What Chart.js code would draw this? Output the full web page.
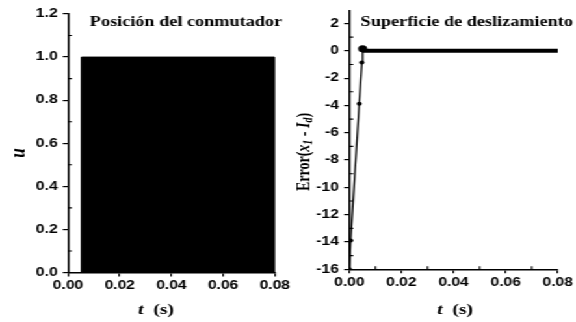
<!DOCTYPE html>
<html><head><meta charset="utf-8">
<script src="https://cdn.jsdelivr.net/npm/chart.js@4.4.0/dist/chart.umd.min.js"></script>
<style>
html,body{margin:0;padding:0;background:#fff;overflow:hidden}
#wrap{position:absolute;left:0;top:0;width:443px;height:322px;transform:scaleX(1.3002);transform-origin:0 0}
#a{position:absolute;left:0;top:0;width:225px;height:322px}
#b{position:absolute;left:225px;top:0;width:218px;height:322px}
</style></head><body>
<div id="wrap"><div id="a"><canvas id="c1"></canvas></div><div id="b"><canvas id="c2"></canvas></div></div>
<script>
// ---- data ----
const timeTicks = [0, 0.02, 0.04, 0.06, 0.08];
const timeMinor = [0.01, 0.03, 0.05, 0.07];
const uTicks = [0, 0.2, 0.4, 0.6, 0.8, 1.0, 1.2];
const uMinor = [0.1, 0.3, 0.5, 0.7, 0.9, 1.1];
const errTicks = [-16, -14, -12, -10, -8, -6, -4, -2, 0, 2];
const errMinor = [-15, -13, -11, -9, -7, -5, -3, -1, 1];
const switchT = [0, 0.0052, 0.0052, 0.08, 0.08];
const switchU = [0, 0, 1, 1, 0];
const errT = [0, 0.0005, 0.0038, 0.0048, 0.0051];
const errV = [-16, -13.9, -3.87, -0.85, 0.15];
const zeroT = [0.0049, 0.08];
const zeroV = [0, 0];

const titleLeft = 'Posición del conmutador';
const titleRight = 'Superficie de deslizamiento';

const SANS = '"Liberation Sans", Arial, sans-serif';
const SERIF = '"Liberation Serif", "Times New Roman", serif';
const pts = (xs, ys) => xs.map((x, i) => ({x, y: ys[i]}));
const TICKFONT = {family: SANS, size: 12, weight: 'bold'};

function xScale(h) {
  return {
    type: 'linear', min: 0, max: 0.08,
    afterBuildTicks: s => { s.ticks = timeTicks.map(v => ({value: v})); },
    afterFit: s => { s.height = h; },
    ticks: {color: '#000', font: TICKFONT, padding: 2,
      maxRotation: 0, autoSkip: false, callback: v => Number(v).toFixed(2)},
    grid: {drawOnChartArea: false, drawTicks: true, tickLength: 4, color: '#000', lineWidth: 1.2},
    border: {color: '#000', width: 1.5}
  };
}
function yScale(min, max, ticks, w, dec) {
  return {
    type: 'linear', min, max,
    afterBuildTicks: s => { s.ticks = ticks.map(v => ({value: v})); },
    afterFit: s => { s.width = w; },
    ticks: {color: '#000', font: TICKFONT, padding: 4,
      autoSkip: false, callback: v => Number(v).toFixed(dec)},
    grid: {drawOnChartArea: false, drawTicks: true, tickLength: 4, color: '#000', lineWidth: 1.2},
    border: {color: '#000', width: 1.5}
  };
}

function drawRich(ctx, parts, x, y, rot) {
  ctx.save();
  ctx.translate(x, y);
  if (rot) ctx.rotate(rot);
  ctx.textBaseline = 'middle';
  ctx.textAlign = 'left';
  ctx.fillStyle = '#000';
  let total = 0;
  parts.forEach(p => { ctx.font = p.f; p.w = ctx.measureText(p.t).width; total += p.w; });
  let cx = -total / 2;
  parts.forEach(p => { ctx.font = p.f; ctx.fillText(p.t, cx, p.dy || 0); cx += p.w; });
  ctx.restore();
}

const minorPlugin = {
  id: 'minorTicks',
  afterDraw(chart, args, opts) {
    const ctx = chart.ctx;
    const xs = chart.scales.x, ys = chart.scales.y;
    ctx.save();
    ctx.strokeStyle = '#000';
    ctx.lineWidth = 1.1;
    ctx.beginPath();
    timeMinor.forEach(v => {
      const px = xs.getPixelForValue(v);
      ctx.moveTo(px, xs.top); ctx.lineTo(px, xs.top - 3);
    });
    (opts.yMinor || []).forEach(v => {
      const py = ys.getPixelForValue(v);
      ctx.moveTo(ys.right, py); ctx.lineTo(ys.right + 3, py);
    });
    ctx.stroke();
    ctx.restore();
    (opts.texts || []).forEach(t => drawRich(ctx, t.parts, t.x, t.y, t.rot));
  }
};

const tParts = [
  {t: 't', f: 'italic bold 15px ' + SERIF},
  {t: '  (s)', f: 'bold 15px ' + SERIF}
];

new Chart(document.getElementById('c1'), {
  type: 'line',
  data: {datasets: [{
    data: pts(switchT, switchU), fill: 'origin', backgroundColor: '#000',
    borderColor: '#000', borderWidth: 1, pointRadius: 0, tension: 0
  }]},
  options: {
    responsive: true, maintainAspectRatio: false, animation: false,
    devicePixelRatio: 1,
    layout: {padding: {left: 0, right: 12, top: 14, bottom: 0}},
    scales: {x: xScale(49.5), y: yScale(0, 1.2, uTicks, 52.3, 1)},
    plugins: {
      legend: {display: false}, tooltip: {enabled: false},
      minorTicks: {
        yMinor: uMinor,
        texts: [
          {parts: [{t: titleLeft, f: 'bold 14px ' + SERIF}], x: 143, y: 22},
          {parts: [{t: 'u', f: 'italic bold 17px ' + SERIF}], x: 15, y: 153, rot: -Math.PI / 2},
          {parts: tParts, x: 120, y: 310}
        ]
      }
    }
  },
  plugins: [minorPlugin]
});

new Chart(document.getElementById('c2'), {
  type: 'line',
  data: {datasets: [
    {data: pts(zeroT, zeroV), borderColor: '#000', borderWidth: 4, pointRadius: 0, tension: 0, fill: false},
    {data: pts(errT, errV), borderColor: '#000', backgroundColor: '#000', borderWidth: 1.3,
      pointRadius: [2, 2, 2, 2, 3.5], pointBorderWidth: 0, tension: 0, fill: false}
  ]},
  options: {
    responsive: true, maintainAspectRatio: false, animation: false,
    devicePixelRatio: 1,
    layout: {padding: {left: 0, right: 14, top: 11, bottom: 0}},
    scales: {x: xScale(52.7), y: yScale(-16, 2.9, errTicks, 43.7, 0)},
    plugins: {
      legend: {display: false}, tooltip: {enabled: false},
      minorTicks: {
        yMinor: errMinor,
        texts: [
          {parts: [{t: titleRight, f: 'bold 14px ' + SERIF}], x: 134, y: 22},
          {parts: [
            {t: 'Error(', f: 'bold 14px ' + SERIF},
            {t: 'x', f: 'italic bold 14px ' + SERIF},
            {t: '1', f: 'italic bold 10px ' + SERIF, dy: 3},
            {t: ' - ', f: 'bold 14px ' + SERIF},
            {t: 'I', f: 'italic bold 14px ' + SERIF},
            {t: 'd', f: 'italic bold 10px ' + SERIF, dy: 3},
            {t: ')', f: 'bold 14px ' + SERIF}
          ], x: 9, y: 152, rot: -Math.PI / 2},
          {parts: tParts, x: 125, y: 310}
        ]
      }
    }
  },
  plugins: [minorPlugin]
});
</script>
</body></html>
